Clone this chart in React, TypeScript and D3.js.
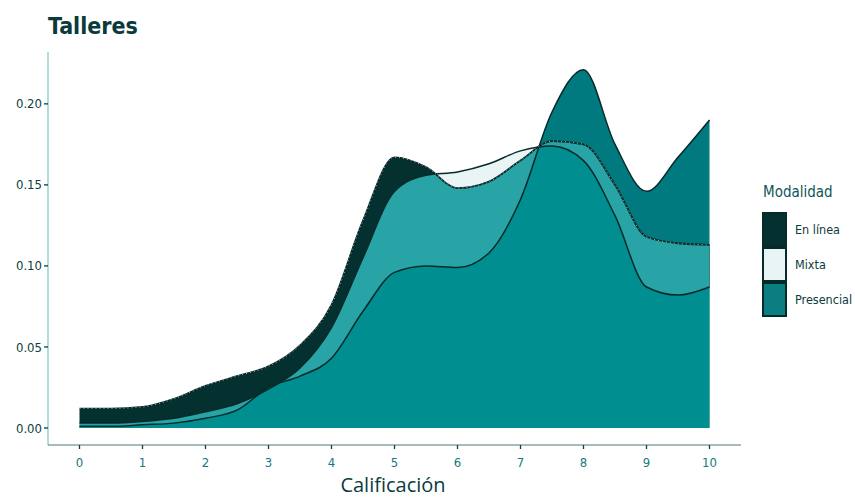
import React from "react";
import * as d3 from "d3";

const xs = [0, 0.5, 1, 1.5, 2, 2.5, 3, 3.5, 4, 4.5, 5, 5.5, 6, 6.5, 7, 7.5, 8, 8.5, 9, 9.5, 10];
const enLinea = [0.012, 0.012, 0.013, 0.018, 0.026, 0.032, 0.038, 0.051, 0.076, 0.128, 0.167, 0.161, 0.148, 0.152, 0.165, 0.177, 0.175, 0.15, 0.118, 0.114, 0.113];
const mixta = [0.003, 0.003, 0.004, 0.006, 0.01, 0.015, 0.024, 0.037, 0.062, 0.105, 0.146, 0.156, 0.158, 0.163, 0.171, 0.174, 0.165, 0.131, 0.087, 0.082, 0.087];
const presencial = [0.001, 0.001, 0.002, 0.003, 0.006, 0.011, 0.025, 0.032, 0.043, 0.072, 0.096, 0.1, 0.099, 0.108, 0.141, 0.195, 0.221, 0.175, 0.146, 0.167, 0.19];
const yTicks = [0, 0.05, 0.1, 0.15, 0.2];
const yTickLabels = ["0.00", "0.05", "0.10", "0.15", "0.20"];
const xTicks = [0, 1, 2, 3, 4, 5, 6, 7, 8, 9, 10];
const categories = ["En línea", "Mixta", "Presencial"];
const legendColors = ["#04302f", "#e9f4f4", "#0b7e82"];

const NARROW = "'Liberation Sans Narrow', 'DejaVu Sans Condensed', 'Roboto', sans-serif";

export default function App() {
  const x = d3.scaleLinear().domain([-0.5, 10.5]).range([48, 741]);
  const y = d3.scaleLinear().domain([-0.0105, 0.232]).range([445, 52]);

  const curve = d3.curveMonotoneX;
  const area = d3
    .area<number>()
    .x((_, i) => x(xs[i]))
    .y0(y(0))
    .y1((d) => y(d))
    .curve(curve);
  const line = d3
    .line<number>()
    .x((_, i) => x(xs[i]))
    .y((d) => y(d))
    .curve(curve);

  const aL = area(enLinea) || "";
  const aM = area(mixta) || "";
  const aP = area(presencial) || "";

  return (
    <svg width={855} height={497} style={{ display: "block", position: "absolute", left: 0, top: 0 }}>
      <defs>
        <clipPath id="clipL">
          <path d={aL} />
        </clipPath>
        <clipPath id="clipM">
          <path d={aM} />
        </clipPath>
      </defs>
      <rect width={855} height={497} fill="#ffffff" />

      {/* filled regions */}
      <path d={aP} fill="#007a7e" />
      <path d={aL} fill="#04302f" />
      <path d={aM} fill="#e9f4f4" />
      <g clipPath="url(#clipL)">
        <path d={aM} fill="#28a4a7" />
        <path d={aP} fill="#28a4a7" />
      </g>
      <g clipPath="url(#clipL)">
        <g clipPath="url(#clipM)">
          <path d={aP} fill="#008e90" />
        </g>
      </g>

      {/* outlines */}
      <path d={line(presencial) || ""} fill="none" stroke="#072a2b" strokeWidth={1.5} />
      <path d={line(mixta) || ""} fill="none" stroke="#072a2b" strokeWidth={1.5} />
      <path d={line(enLinea) || ""} fill="none" stroke="#072a2b" strokeWidth={1.8} />
      <path d={line(enLinea) || ""} fill="none" stroke="#ffffff" strokeWidth={0.8} strokeDasharray="1 3" opacity={0.8} />

      {/* axes */}
      <line x1={48} x2={48} y1={52} y2={445} stroke="#7cc5c8" strokeWidth={1.2} />
      <line x1={48} x2={741} y1={445} y2={445} stroke="#4f7879" strokeWidth={1.2} />
      {yTicks.map((t, i) => (
        <g key={"y" + i}>
          <line x1={44} x2={48} y1={y(t)} y2={y(t)} stroke="#0d3e40" strokeWidth={1.3} />
          <text x={42} y={y(t)} dy="0.35em" textAnchor="end" fontFamily={NARROW} fontSize={13} fill="#0a3f42">
            {yTickLabels[i]}
          </text>
        </g>
      ))}
      {xTicks.map((t) => (
        <g key={"x" + t}>
          <line x1={x(t)} x2={x(t)} y1={445} y2={449} stroke="#0d3e40" strokeWidth={1.3} />
          <text x={x(t)} y={467} textAnchor="middle" fontFamily={NARROW} fontSize={13} fill="#17797d">
            {t}
          </text>
        </g>
      ))}
      <text x={393} y={492} textAnchor="middle" fontFamily="'Open Sans', sans-serif" fontSize={20} fill="#0b3b3d">
        Calificación
      </text>

      {/* title */}
      <text x={48} y={34} fontFamily={NARROW} fontWeight="bold" fontSize={23} fill="#0b3a3c">
        Talleres
      </text>

      {/* legend */}
      <text x={763} y={197} fontFamily={NARROW} fontSize={15} fill="#0f5558">
        Modalidad
      </text>
      {categories.map((c, i) => (
        <g key={c}>
          <rect x={763} y={213 + i * 35} width={23} height={33} fill={legendColors[i]} stroke="#062a2a" strokeWidth={2} />
          <text x={795} y={230 + i * 35} dy="0.35em" fontFamily={NARROW} fontSize={12.5} fill="#0b3a3c">
            {c}
          </text>
        </g>
      ))}
    </svg>
  );
}
